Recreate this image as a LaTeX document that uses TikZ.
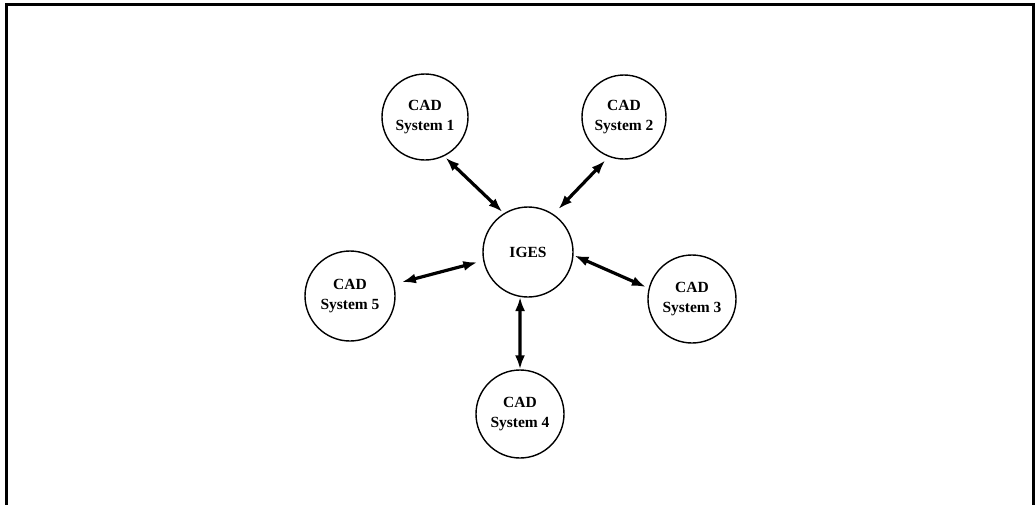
\documentclass[tikz,border=0pt]{standalone}
\usepackage{fontspec}
\setmainfont{Liberation Serif}
\usetikzlibrary{arrows.meta}
\begin{document}
\begin{tikzpicture}[x=1pt,y=-1pt,
  sysnode/.style={circle,draw,line width=1.4pt,inner sep=0pt,
    font=\bfseries\fontsize{15.5}{20}\selectfont,align=center},
  link/.style={line width=3.2pt,{Latex[length=14pt,width=10pt]}-{Latex[length=14pt,width=10pt]}},
  frameline/.style={line width=3pt}]
  \useasboundingbox (0,0) rectangle (1035,504);
  % outer frame
  \draw[frameline] (6,510) -- (6,4) -- (1033.5,4) -- (1033.5,510);
  % central exchange format
  \node[sysnode,minimum size=90pt] (iges) at (528,252) {IGES};
  % surrounding CAD systems
  \node[sysnode,minimum size=86pt] (c1) at (425,117) {CAD\\System 1};
  \node[sysnode,minimum size=84pt] (c2) at (624,117) {CAD\\System 2};
  \node[sysnode,minimum size=88pt] (c3) at (692,299) {CAD\\System 3};
  \node[sysnode,minimum size=88pt] (c4) at (520,414) {CAD\\System 4};
  \node[sysnode,minimum size=90pt] (c5) at (350,296) {CAD\\System 5};
  % bidirectional links
  \draw[link,shorten <=2pt,shorten >=2pt] (c1.-64) -- (iges.122);
  \draw[link,shorten <=5pt,shorten >=7pt] (c2.249) -- (iges.56);
  \draw[link,shorten <=1pt,shorten >=3pt] (iges.-4) -- (c3.166);
  \draw[link] (iges.260) -- (c4.north);
  \draw[link,shorten <=8pt,shorten >=6pt] (c5.15) -- (iges.191);
\end{tikzpicture}
\end{document}
